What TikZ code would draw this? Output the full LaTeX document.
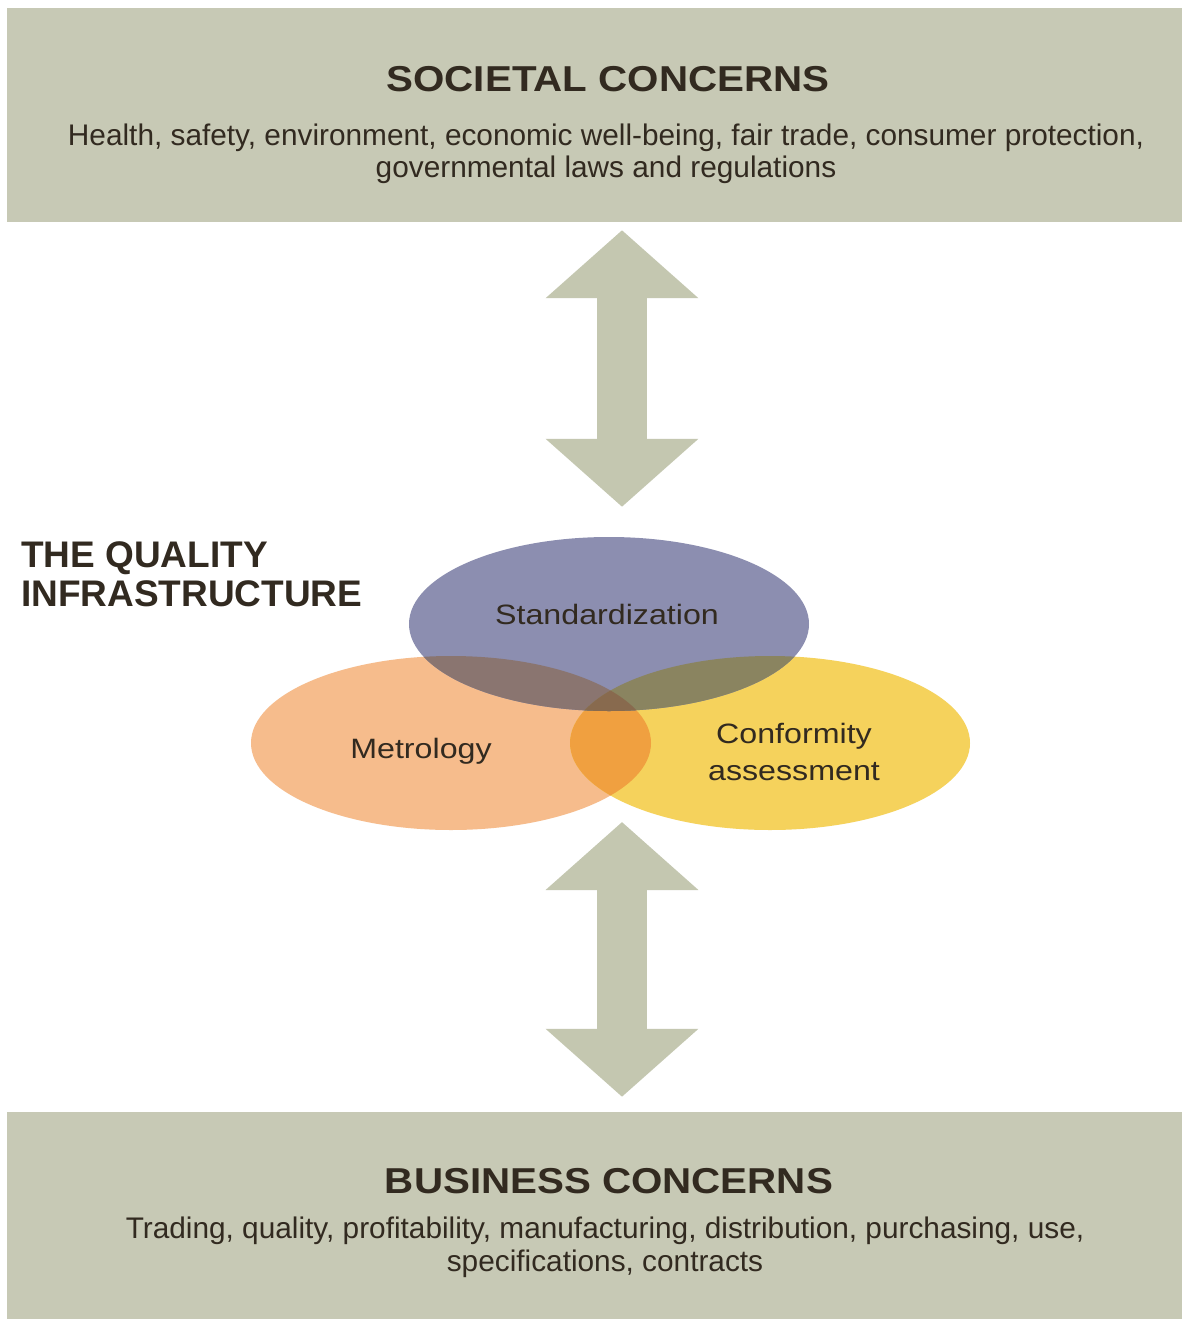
\documentclass[tikz,border=0pt]{standalone}
\usepackage{fontspec}
\setmainfont{Liberation Sans}
\newfontfamily\widefont[FakeStretch=1.12]{Liberation Sans}
\newfontfamily\labelfont[FakeStretch=1.15]{Liberation Sans}
\usetikzlibrary{arrows.meta,shapes.geometric}

\definecolor{panelgray}{RGB}{199,201,181}
\definecolor{arrowgray}{RGB}{196,199,176}
\definecolor{inkbrown}{RGB}{50,42,32}
\definecolor{stdblue}{RGB}{140,142,176}
\definecolor{metorange}{RGB}{246,188,140}
\definecolor{confyellow}{RGB}{245,210,92}
\definecolor{mcorange}{RGB}{240,160,64}
\definecolor{smbrown}{RGB}{138,117,112}
\definecolor{scolive}{RGB}{138,132,96}
\definecolor{smcbrown}{RGB}{136,106,78}

\begin{document}
\begin{tikzpicture}[
    x=1pt, y=-1pt,
    panel/.style={rectangle, fill=panelgray, inner sep=0pt, minimum width=1175pt},
    heading/.style={font=\widefont\bfseries\fontsize{36}{40}\selectfont, text=inkbrown, anchor=base, inner sep=0pt},
    detail/.style={font=\fontsize{29.8}{32.5}\selectfont, text=inkbrown, align=center, anchor=north, inner sep=0pt},
    oval/.style={ellipse, inner sep=0pt, minimum width=400pt, minimum height=174pt},
    ovallabel/.style={font=\labelfont\fontsize{28}{37}\selectfont, text=inkbrown, align=center, inner sep=0pt},
    dblarrow/.style={line width=50pt, draw=arrowgray, {Triangle[width=149pt,length=68pt]}-{Triangle[width=149pt,length=68pt]}}
]
\useasboundingbox (0,0) rectangle (1182,1319);
\fill[white] (0,0) rectangle (1182,1319);
% ---------- concern panels ----------
\node[panel, minimum height=214pt] (soc) at (594.5,115) {};
\node[panel, minimum height=207pt] (bus) at (594.5,1215.5) {};
\node[heading] (socT) at (608,92) {SOCIETAL CONCERNS};
\node[detail] (socD) at (606,123.5) {Health, safety, environment, economic well-being, fair trade, consumer protection,\\governmental laws and regulations};
\node[heading] (busT) at (609,1193) {BUSINESS CONCERNS};
\node[detail] (busD) at (605,1217) {Trading, quality, profitability, manufacturing, distribution, purchasing, use,\\specifications, contracts};
% ---------- arrows ----------
\coordinate (axis) at (622,0);
\coordinate (dnTop) at (622,822);
\node[oval] (std) at (609,624) {};
\draw[dblarrow, shorten <=8pt, shorten >=30pt] (soc.south -| axis) -- (std.north -| axis);
\draw[dblarrow, shorten >=15pt] (dnTop) -- (bus.north -| axis);
% ---------- quality infrastructure ----------
\node[oval, fill=metorange] (met) at (451,743) {};
\node[oval, fill=confyellow] (conf) at (770,743) {};
\begin{scope}
  \clip (met.center) ellipse [x radius=200, y radius=87];
  \fill[mcorange] (conf.center) ellipse [x radius=200, y radius=87];
\end{scope}
\fill[stdblue] (std.center) ellipse [x radius=200, y radius=87];
\begin{scope}
  \clip (std.center) ellipse [x radius=200, y radius=87];
  \fill[smbrown] (met.center) ellipse [x radius=200, y radius=87];
  \fill[scolive] (conf.center) ellipse [x radius=200, y radius=87];
  \clip (met.center) ellipse [x radius=200, y radius=87];
  \fill[smcbrown] (conf.center) ellipse [x radius=200, y radius=87];
\end{scope}
\node[ovallabel, anchor=base] (lstd) at (607,624) {Standardization};
\node[ovallabel, anchor=base] (lmet) at (421,758) {Metrology};
\node[ovallabel, anchor=north] (lconf) at (794,722.6) {Conformity\\assessment};
\node[font=\bfseries\fontsize{37}{39}\selectfont, text=inkbrown, align=left, anchor=north west, inner sep=0pt] (qi) at (21,541.5) {THE QUALITY\\INFRASTRUCTURE};
\end{tikzpicture}
\end{document}
